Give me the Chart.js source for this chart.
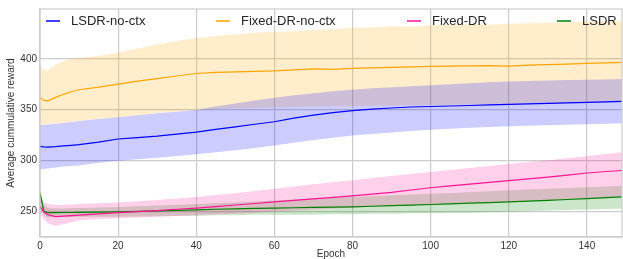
<!DOCTYPE html>
<html>
<head>
<meta charset="utf-8">
<script src="https://cdn.jsdelivr.net/npm/chart.js@4"></script>
<style>
  html, body { margin: 0; padding: 0; background: #fff; }
  #myChart { display: block; }
</style>
</head>
<body>
<canvas id="myChart" width="623" height="259"></canvas>
<script>
const epochs = [0, 1, 2, 4, 6, 8, 10, 15, 20, 25, 30, 35, 40, 45, 50, 55, 60, 65, 70, 75, 80, 85, 90, 95, 100, 105, 110, 115, 120, 125, 130, 135, 140, 145, 149];

// LSDR-no-ctx
const lsdrNoCtx = [313.7, 313.3, 313.0, 313.5, 314.2, 314.8, 315.5, 318.0, 321.0, 322.3, 323.8, 325.8, 327.8, 330.5, 333.0, 335.5, 338.0, 341.5, 344.5, 347.0, 349.0, 350.5, 351.5, 352.5, 353.0, 353.5, 354.0, 354.5, 355.0, 355.5, 356.0, 356.5, 357.0, 357.5, 358.0];
const lsdrNoCtxHi = [334.8, 335.0, 335.3, 336.0, 336.8, 337.8, 338.8, 340.8, 342.3, 344.3, 346.3, 347.8, 349.5, 353.0, 356.0, 359.0, 361.5, 364.0, 366.0, 368.0, 369.5, 371.0, 372.0, 373.0, 374.0, 375.0, 376.0, 376.8, 377.5, 378.0, 378.5, 379.0, 379.3, 379.7, 380.0];
const lsdrNoCtxLo = [291.0, 291.5, 292.0, 293.0, 293.8, 294.5, 295.0, 297.5, 299.5, 301.0, 302.5, 304.3, 306.0, 308.0, 310.0, 312.2, 314.5, 317.2, 320.0, 322.3, 324.5, 326.0, 327.5, 328.8, 330.0, 331.0, 332.0, 332.8, 333.5, 334.0, 334.5, 335.0, 335.5, 336.0, 336.5];

// Fixed-DR-no-ctx
const fixedNoCtx = [362.0, 359.0, 358.5, 362.0, 365.0, 367.5, 369.5, 372.0, 375.0, 378.0, 380.5, 383.0, 385.5, 386.5, 387.0, 387.5, 388.0, 389.0, 390.0, 389.5, 390.5, 391.0, 391.5, 392.0, 392.5, 392.8, 393.0, 393.3, 392.8, 393.8, 394.2, 394.8, 395.5, 396.0, 396.5];
const fixedNoCtxHi = [393.0, 389.0, 388.5, 394.0, 398.0, 399.5, 400.5, 403.0, 406.0, 410.0, 414.0, 417.5, 420.5, 422.5, 424.0, 425.5, 426.5, 427.0, 428.5, 429.0, 430.5, 431.0, 432.0, 431.5, 433.0, 433.5, 434.0, 433.5, 434.5, 435.0, 435.5, 436.0, 436.5, 437.0, 437.5];
const fixedNoCtxLo = [335.0, 335.2, 335.5, 336.2, 337.0, 338.0, 339.0, 341.0, 342.5, 344.5, 346.5, 348.0, 349.7, 350.5, 351.0, 351.5, 352.0, 352.5, 353.0, 353.2, 353.5, 353.8, 354.0, 354.3, 354.5, 354.8, 355.0, 355.3, 355.5, 355.8, 356.0, 356.5, 357.0, 357.3, 357.5];

// Fixed-DR
const fixedDr = [255.0, 249.0, 246.5, 244.5, 245.0, 245.5, 246.0, 247.3, 248.5, 249.5, 250.5, 251.8, 253.0, 254.5, 256.0, 257.5, 259.0, 260.5, 262.0, 263.5, 265.0, 266.8, 268.5, 270.8, 273.0, 274.8, 276.5, 278.2, 280.0, 281.8, 283.5, 285.5, 287.5, 289.0, 290.0];
const fixedDrHi = [262.0, 258.5, 257.0, 256.0, 256.3, 256.6, 257.0, 257.8, 258.5, 259.8, 261.0, 262.5, 264.0, 265.8, 267.5, 269.8, 272.0, 274.3, 276.5, 278.5, 280.5, 282.5, 284.5, 286.5, 288.5, 290.5, 292.5, 294.5, 296.5, 298.3, 300.0, 302.0, 304.0, 306.3, 308.0];
const fixedDrLo = [248.0, 242.0, 238.0, 235.5, 237.0, 239.0, 241.0, 242.2, 243.0, 243.8, 244.5, 245.2, 246.0, 246.8, 247.5, 248.5, 249.5, 250.5, 251.5, 252.5, 253.5, 254.3, 255.0, 255.8, 256.5, 257.3, 258.0, 258.5, 259.0, 260.0, 260.8, 261.7, 262.5, 263.3, 264.0];

// LSDR
const lsdr = [268.0, 249.5, 248.5, 248.5, 248.6, 248.6, 248.7, 249.0, 249.3, 249.8, 250.3, 250.8, 251.3, 251.8, 252.2, 252.6, 253.0, 253.3, 253.6, 253.9, 254.2, 254.8, 255.3, 255.9, 256.5, 257.2, 257.8, 258.4, 259.0, 259.8, 260.5, 261.4, 262.3, 263.2, 264.0];
const lsdrHi = [272.0, 256.0, 253.0, 252.5, 252.6, 252.8, 253.0, 253.5, 254.0, 254.8, 255.5, 256.3, 257.0, 257.8, 258.5, 259.5, 260.5, 261.5, 262.5, 263.3, 264.0, 264.8, 265.5, 266.3, 267.0, 267.8, 268.5, 269.5, 270.5, 271.3, 272.0, 272.8, 273.5, 274.3, 275.0];
const lsdrLo = [262.0, 246.0, 244.0, 244.0, 244.2, 244.3, 244.5, 244.5, 244.5, 244.8, 245.0, 245.3, 245.5, 245.8, 246.0, 246.3, 246.5, 246.5, 246.5, 246.8, 247.0, 247.3, 247.5, 247.8, 248.0, 248.3, 248.5, 248.9, 249.3, 249.9, 250.5, 251.0, 251.5, 252.1, 252.6];

const seriesNames = ['LSDR-no-ctx', 'Fixed-DR-no-ctx', 'Fixed-DR', 'LSDR'];
const yTicks = [250, 300, 350, 400];
const xTicks = [0, 20, 40, 60, 80, 100, 120, 140];

const FONT = "'Liberation Sans', Arial, sans-serif";

function pts(arr) {
    return epochs.map((e, i) => ({ x: e, y: arr[i] }));
}

function band(name, color, fillColor, mean, hi, lo) {
    return [
        { label: name, data: pts(mean), borderColor: color, borderWidth: 1.2, pointRadius: 0, fill: false, tension: 0 },
        { label: name + ' hi', data: pts(hi), borderWidth: 0, borderColor: 'rgba(0,0,0,0)', pointRadius: 0, fill: '+1', backgroundColor: fillColor, tension: 0 },
        { label: name + ' lo', data: pts(lo), borderWidth: 0, borderColor: 'rgba(0,0,0,0)', pointRadius: 0, fill: false, tension: 0 }
    ];
}

const datasets = [].concat(
    band(seriesNames[0], '#0000ff', 'rgba(0,0,255,0.2)', lsdrNoCtx, lsdrNoCtxHi, lsdrNoCtxLo),
    band(seriesNames[1], '#ffa500', 'rgba(255,165,0,0.2)', fixedNoCtx, fixedNoCtxHi, fixedNoCtxLo),
    band(seriesNames[2], '#ff1493', 'rgba(255,20,147,0.2)', fixedDr, fixedDrHi, fixedDrLo),
    band(seriesNames[3], '#008000', 'rgba(0,128,0,0.2)', lsdr, lsdrHi, lsdrLo)
);

// legend drawn inside the plot, like matplotlib's expanded legend
const legendPlugin = {
    id: 'insideLegend',
    afterDraw(chart) {
        const { ctx, chartArea } = chart;
        const handleX = [6, 176, 367, 517];
        const y = chartArea.top + 12;
        ctx.save();
        ctx.font = '13px ' + FONT;
        ctx.textBaseline = 'middle';
        seriesNames.forEach((name, k) => {
            const ds = chart.data.datasets[k * 3];
            const x0 = chartArea.left + handleX[k];
            ctx.strokeStyle = ds.borderColor;
            ctx.lineWidth = 1.5;
            ctx.beginPath();
            ctx.moveTo(x0, y);
            ctx.lineTo(x0 + 14, y);
            ctx.stroke();
            ctx.fillStyle = '#262626';
            ctx.fillText(name, x0 + 25, y + 0.5);
        });
        ctx.restore();
    }
};

const framePlugin = {
    id: 'frame',
    afterDatasetsDraw(chart) {
        const { ctx, chartArea } = chart;
        ctx.save();
        ctx.strokeStyle = '#cccccc';
        ctx.lineWidth = 1.2;
        ctx.strokeRect(chartArea.left, chartArea.top, chartArea.right - chartArea.left, chartArea.bottom - chartArea.top);
        ctx.restore();
    }
};

function createChart() {
    const ctx = document.getElementById('myChart').getContext('2d');
    new Chart(ctx, {
        type: 'line',
        data: { datasets: datasets },
        options: {
            responsive: false,
            animation: false,
            events: [],
            layout: { padding: { top: 8, right: 1, left: 0, bottom: 0 } },
            plugins: {
                legend: { display: false },
                tooltip: { enabled: false },
                filler: { drawTime: 'beforeDatasetsDraw' }
            },
            scales: {
                x: {
                    type: 'linear',
                    min: 0,
                    max: 149,
                    afterBuildTicks: (scale) => { scale.ticks = xTicks.map(v => ({ value: v })); },
                    afterFit: (scale) => { scale.height = 22; },
                    grid: { color: '#cccccc', lineWidth: 1.2, drawTicks: false },
                    border: { color: '#cccccc', width: 1.2 },
                    ticks: { padding: 3, color: '#333', font: { family: FONT, size: 10 }, maxRotation: 0 },
                    title: { display: true, text: 'Epoch', color: '#333', font: { family: FONT, size: 10, lineHeight: 1 }, padding: { top: 0, bottom: 0 } }
                },
                y: {
                    min: 224.5,
                    max: 449,
                    afterBuildTicks: (scale) => { scale.ticks = yTicks.map(v => ({ value: v })); },
                    afterFit: (scale) => { scale.width = 40; },
                    grid: { color: '#cccccc', lineWidth: 1.2, drawTicks: false },
                    border: { color: '#cccccc', width: 1.2 },
                    ticks: { padding: 3, color: '#333', font: { family: FONT, size: 10 } },
                    title: { display: true, text: 'Average cummulative reward', color: '#333', font: { family: FONT, size: 10, lineHeight: 1.2 }, padding: { top: 5, bottom: 0 } }
                }
            }
        },
        plugins: [legendPlugin, framePlugin]
    });
}

document.addEventListener('DOMContentLoaded', createChart);
</script>
</body>
</html>
